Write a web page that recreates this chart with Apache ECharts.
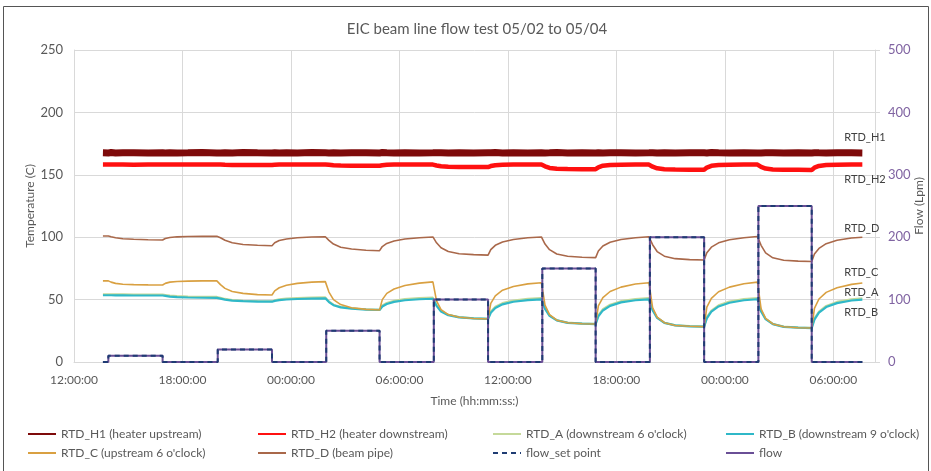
<!DOCTYPE html>
<html>
<head>
<meta charset="utf-8">
<script src="https://cdn.jsdelivr.net/npm/echarts@6/dist/echarts.min.js"></script>
<style>
html,body{margin:0;padding:0;background:#fff;}
#chart{width:931px;height:471px;}
</style>
</head>
<body>
<div id="chart"></div>
<script>
// ---- data (hours after 05/02 12:00:00) ----
var titleText = 'EIC beam line flow test 05/02 to 05/04';
var xTickLabels = ['12:00:00','18:00:00','00:00:00','06:00:00','12:00:00','18:00:00','00:00:00','06:00:00'];

var times = [1.6,
 1.9,2.05,2.3,2.7,3.3,4.1,4.9,5.05,5.3,5.7,6.3,7.1,7.9,
 7.95,8.1,8.35,8.75,9.35,10.15,10.95,11.1,11.35,11.75,12.35,13.15,13.9,
 13.95,14.1,14.35,14.75,15.35,16.15,16.9,17.05,17.3,17.7,18.3,19.1,19.85,
 19.9,20.05,20.3,20.7,21.3,22.1,22.9,23.05,23.3,23.7,24.3,25.1,25.85,
 25.9,26.05,26.3,26.7,27.3,28.1,28.85,29.0,29.25,29.65,30.25,31.05,31.8,
 31.85,32.0,32.25,32.65,33.25,34.05,34.85,35.0,35.25,35.65,36.25,37.05,37.8,
 37.85,38.0,38.25,38.65,39.25,40.05,40.8,40.95,41.2,41.6,42.2,43.0,43.6];

var rtdH1 = [167.6,
 167.5,167.8,167.4,167.6,167.7,167.5,167.6,167.4,167.7,167.5,167.6,167.8,167.5,
 167.6,167.4,167.7,167.5,167.8,167.6,167.5,167.7,167.4,167.6,167.5,167.8,167.6,
 167.7,167.5,167.6,167.4,167.7,167.6,167.5,167.8,167.6,167.5,167.7,167.4,167.6,
 167.5,167.7,167.6,167.4,167.6,167.5,167.7,167.6,167.8,167.5,167.6,167.4,167.6,
 167.7,167.5,167.6,167.8,167.5,167.6,167.4,167.7,167.5,167.6,167.7,167.5,167.6,
 167.5,167.7,167.4,167.6,167.5,167.7,167.6,167.5,167.8,167.6,167.4,167.6,167.5,
 167.6,167.5,167.7,167.6,167.4,167.6,167.5,167.7,167.6,167.5,167.7,167.6,167.5];

var rtdH2 = [158.3,
 158.3,158.3,158.2,158.2,158.1,158.2,158.2,158.3,158.3,158.3,158.2,158.3,158.3,
 158.3,158.2,158.0,157.9,157.8,157.8,157.8,158.0,158.2,158.3,158.3,158.2,158.3,
 158.3,158.0,157.6,157.4,157.3,157.2,157.2,157.6,158.0,158.2,158.3,158.3,158.2,
 158.2,157.5,156.8,156.4,156.3,156.2,156.2,157.0,157.7,158.0,158.2,158.2,158.2,
 158.2,156.8,155.5,154.8,154.6,154.5,154.5,156.0,157.3,157.9,158.1,158.2,158.2,
 158.2,156.5,155.2,154.5,154.2,154.0,154.0,155.8,157.2,157.8,158.0,158.2,158.2,
 158.2,156.4,155.0,154.3,154.0,154.0,153.9,155.7,157.1,157.8,158.0,158.2,158.2];

var rtdA = [54.3,
 54.3,54.3,54.2,54.2,54.1,54.0,54.0,53.7,53.2,52.8,52.5,52.3,52.2,
 52.2,51.5,50.6,49.7,49.1,48.8,48.6,49.5,50.2,50.8,51.2,51.6,51.8,
 51.8,48.6,46.0,44.2,43.0,42.2,41.9,45.3,47.4,49.1,50.4,51.2,51.6,
 51.6,45.5,41.0,37.8,36.0,35.1,34.7,40.5,44.3,47.2,49.3,50.6,51.2,
 51.2,43.0,37.3,33.5,31.6,30.9,30.6,37.5,42.3,46.0,48.8,50.5,51.2,
 51.2,42.0,35.6,31.5,29.5,28.8,28.5,36.0,41.3,45.5,48.5,50.5,51.3,
 51.3,41.0,34.6,30.5,28.4,27.7,27.4,35.0,40.5,45.0,48.2,50.3,51.0];

var rtdB = [53.5,
 53.5,53.5,53.4,53.4,53.3,53.3,53.3,53.0,52.4,52.0,51.7,51.5,51.4,
 51.4,50.8,50.0,49.2,48.7,48.4,48.3,49.0,49.6,50.1,50.5,50.8,51.0,
 51.0,48.0,45.5,43.8,42.7,42.0,41.7,44.5,46.5,48.2,49.5,50.3,50.7,
 50.7,45.0,40.5,37.5,35.7,34.9,34.5,39.5,43.3,46.2,48.3,49.6,50.2,
 50.2,42.5,37.0,33.3,31.4,30.7,30.4,36.5,41.3,45.0,47.8,49.5,50.2,
 50.2,41.5,35.3,31.3,29.3,28.6,28.3,35.0,40.3,44.5,47.5,49.5,50.3,
 50.3,40.5,34.3,30.3,28.2,27.5,27.2,34.0,39.5,44.0,47.2,49.3,50.0];

var rtdC = [65,
 65,64,63,62.3,62,61.8,61.7,63,64,64.5,64.8,65,65,
 65,62,59,56.5,55,54,53.7,57,59.5,61.5,63,64,64.4,
 64.4,56,50,46,43.5,42.2,41.7,50,55,58.5,61.3,63.2,64.2,
 64.2,49,42,38,35.8,34.9,34.5,47,53,57.5,60.5,62.6,63.5,
 63.5,45.5,38,33.5,31.5,30.7,30.4,45,51.5,56.5,60,62.5,63.5,
 63.5,43.5,36,31.5,29.3,28.6,28.3,44,51,56.3,60,62.7,64,
 64,42.5,35,30.5,28.2,27.5,27.2,43,50.5,55.8,59.5,62.2,63.3];

var rtdD = [101,
 101,100.3,99.5,98.8,98.3,98,97.8,99,99.8,100.3,100.6,100.7,100.7,
 100.7,99.5,97.5,95.5,94.2,93.5,93.2,95.5,97.3,98.6,99.5,100.1,100.4,
 100.4,97.5,94.5,92,90.5,89.5,89.2,92.5,95,97,98.6,99.6,100.2,
 100.2,95.5,91.5,88.5,86.8,86,85.6,90,93.5,96.2,98.2,99.5,100.2,
 100.2,94.5,90,86.5,84.7,83.9,83.6,89,93,96,98.2,99.6,100.3,
 100.3,94,88.5,84.8,82.8,82,81.7,87.5,92,95.5,98,99.6,100.6,
 100.6,93.5,87.5,83.5,81.5,80.8,80.5,86.5,91,94.8,97.5,99.3,100];

var flowTimes = [1.6,1.9,1.9,4.9,4.9,7.95,7.95,10.95,10.95,13.95,13.95,16.9,16.9,19.9,19.9,22.9,22.9,
 25.9,25.9,28.85,28.85,31.85,31.85,34.85,34.85,37.85,37.85,40.8,40.8,43.6];
var flowSetPoint = [0,0,10,10,0,0,20,20,0,0,50,50,0,0,100,100,0,0,150,150,0,0,200,200,0,0,250,250,0,0];
var flowActual   = [0,0,10,10,0,0,20,20,0,0,50,50,0,0,100,100,0,0,150,150,0,0,200,200,0,0,250,250,0,0];

var seriesNames = ['RTD_H1 (heater upstream)','RTD_H2 (heater downstream)','RTD_A (downstream 6 o\'clock)',
  'RTD_B (downstream 9 o\'clock)','RTD_C (upstream 6 o\'clock)','RTD_D (beam pipe)','flow_set point','flow'];
var endTags = ['RTD_H1','RTD_H2','RTD_A','RTD_B','RTD_C','RTD_D'];

// ---- build ----
function pairs(xs, ys){ return xs.map(function(x,i){ return [x, ys[i]]; }); }
var FONT = 'Lato';
var GRAY = '#595959';

function tempSeries(idx, values, color, width, tagOffset, z){
  return {
    name: seriesNames[idx], type: 'line', yAxisIndex: 0, symbol: 'none', z: z,
    data: pairs(times, values),
    lineStyle: {color: color, width: width, cap: 'butt'},
    itemStyle: {color: color},
    endLabel: {show: true, formatter: endTags[idx], color: '#404040', fontFamily: FONT, fontSize: 11,
      offset: tagOffset, align: 'left', verticalAlign: 'middle', distance: 0}
  };
}

var legendPos = [[27,428],[257,428],[492,428],[725,428],[27,447],[257,447],[492,447],[725,447]];
var legends = seriesNames.map(function(n, i){
  return {
    data: [n], left: legendPos[i][0], top: legendPos[i][1], padding: 0,
    itemWidth: 28, itemHeight: 12,
    itemStyle: {opacity: 0, borderWidth: 0},
    lineStyle: {width: 2}, textStyle: {color: GRAY, fontFamily: FONT, fontSize: 12},
    selectedMode: false
  };
});

var option = {
  animation: false,
  backgroundColor: '#ffffff',
  title: {text: titleText, left: 472, textAlign: 'center', top: 17,
    textStyle: {color: GRAY, fontFamily: FONT, fontSize: 15, fontWeight: 'normal'}},
  legend: legends,
  grid: {left: 74, right: 56, top: 50, bottom: 109, containLabel: false, outerBoundsMode: 'none'},
  xAxis: {
    type: 'value', min: 0, max: 44.3, interval: 6,
    name: 'Time (hh:mm:ss:)', nameLocation: 'middle', nameGap: 33, nameMoveOverlap: false,
    nameTextStyle: {color: GRAY, fontFamily: FONT, fontSize: 12},
    axisLine: {show: true, lineStyle: {color: '#D9D9D9'}},
    axisTick: {show: false},
    splitLine: {show: true, lineStyle: {color: '#D9D9D9'}},
    axisLabel: {color: GRAY, fontFamily: FONT, fontSize: 12, margin: 12, showMaxLabel: false,
      formatter: function(v){ var i = Math.round(v/6); return xTickLabels[i] || ''; }}
  },
  yAxis: [{
    type: 'value', min: 0, max: 250, interval: 50, position: 'left',
    name: 'Temperature (C)', nameLocation: 'middle', nameGap: 44, nameRotate: 90, nameMoveOverlap: false,
    nameTextStyle: {color: GRAY, fontFamily: FONT, fontSize: 12, verticalAlign: 'middle', align: 'center'},
    axisLine: {show: true, lineStyle: {color: '#D9D9D9'}},
    axisTick: {show: false},
    splitLine: {show: true, lineStyle: {color: '#D9D9D9'}},
    axisLabel: {color: GRAY, fontFamily: FONT, fontSize: 13, margin: 11}
  }, {
    type: 'value', min: 0, max: 500, interval: 100, position: 'right',
    name: 'Flow (Lpm)', nameLocation: 'middle', nameGap: 44, nameRotate: 90, nameMoveOverlap: false,
    nameTextStyle: {color: GRAY, fontFamily: FONT, fontSize: 12, verticalAlign: 'middle', align: 'center'},
    axisLine: {show: true, lineStyle: {color: '#D9D9D9'}},
    axisTick: {show: true, inside: false, length: 5, lineStyle: {color: '#D9D9D9'}},
    splitLine: {show: false},
    axisLabel: {color: '#8064A2', fontFamily: FONT, fontSize: 13, margin: 13}
  }],
  series: [
    tempSeries(0, rtdH1, '#7E0A0A', 7, [-18,-16], 2),
    tempSeries(1, rtdH2, '#FF1010', 4.5, [-18,15], 3),
    tempSeries(2, rtdA, '#C5D99A', 2, [-18,-6], 4),
    tempSeries(3, rtdB, '#2FB8C8', 2.2, [-18,13], 5),
    tempSeries(4, rtdC, '#D9A041', 1.6, [-18,-11], 6),
    tempSeries(5, rtdD, '#A9684A', 1.6, [-18,-9], 7),
    {name: seriesNames[6], type: 'line', yAxisIndex: 1, symbol: 'none', z: 9,
      data: pairs(flowTimes, flowSetPoint),
      lineStyle: {color: '#1F3C73', width: 2, type: [5,4]}, itemStyle: {color: '#1F3C73'}},
    {name: seriesNames[7], type: 'line', yAxisIndex: 1, symbol: 'none', z: 8,
      data: pairs(flowTimes, flowActual),
      lineStyle: {color: '#6A4F96', width: 2}, itemStyle: {color: '#6A4F96'}}
  ],
  graphic: [{type: 'rect', silent: true, z: 100,
    shape: {x: 3.5, y: 6.5, width: 925, height: 480},
    style: {fill: 'none', stroke: '#555555', lineWidth: 1}}]
};

var chart = echarts.init(document.getElementById('chart'), null, {renderer: 'canvas'});
chart.setOption(option);
</script>
</body>
</html>
